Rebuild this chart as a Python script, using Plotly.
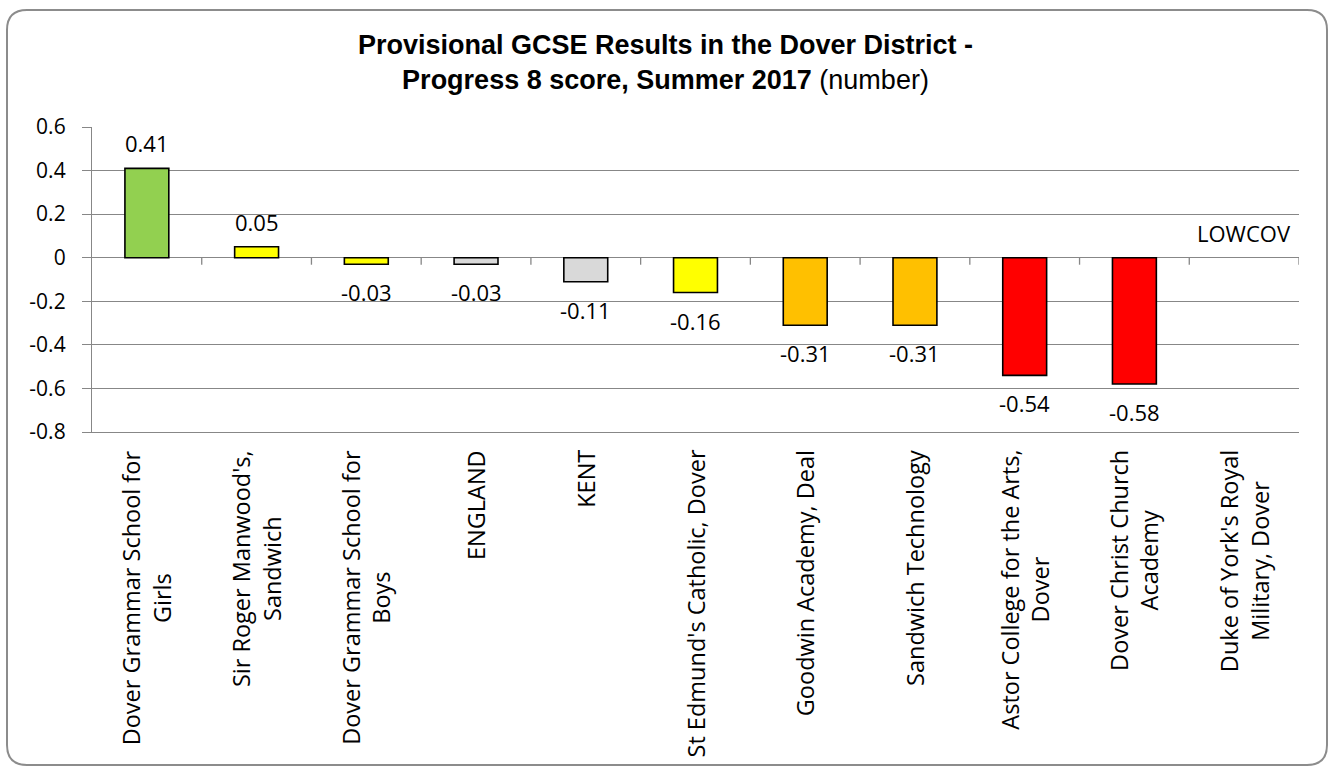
import plotly.graph_objects as go

# ---- data ----
schools = [
    "Dover Grammar School for Girls",
    "Sir Roger Manwood's, Sandwich",
    "Dover Grammar School for Boys",
    "ENGLAND",
    "KENT",
    "St Edmund's Catholic, Dover",
    "Goodwin Academy, Deal",
    "Sandwich Technology",
    "Astor College for the Arts, Dover",
    "Dover Christ Church Academy",
    "Duke of York's Royal Military, Dover",
]
school_labels = [
    "Dover Grammar School for<br>Girls",
    "Sir Roger Manwood's,<br>Sandwich",
    "Dover Grammar School for<br>Boys",
    "ENGLAND",
    "KENT",
    "St Edmund's Catholic, Dover",
    "Goodwin Academy, Deal",
    "Sandwich Technology",
    "Astor College for the Arts,<br>Dover",
    "Dover Christ Church<br>Academy",
    "Duke of York's Royal<br>Military, Dover",
]
progress8 = [0.41, 0.05, -0.03, -0.03, -0.11, -0.16, -0.31, -0.31, -0.54, -0.58, None]
value_labels = ["0.41", "0.05", "-0.03", "-0.03", "-0.11", "-0.16", "-0.31", "-0.31", "-0.54", "-0.58", "LOWCOV"]
bar_colors = ["#92D050", "#FFFF00", "#FFFF00", "#D9D9D9", "#D9D9D9", "#FFFF00",
              "#FFC000", "#FFC000", "#FF0000", "#FF0000", "#FFFFFF"]
y_tick_vals = [-0.8, -0.6, -0.4, -0.2, 0, 0.2, 0.4, 0.6]
y_tick_text = ["-0.8", "-0.6", "-0.4", "-0.2", "0", "0.2", "0.4", "0.6"]
y_range = [-0.8, 0.6]

# ---- layout geometry ----
W, H = 1331, 767
ML, MR, MT, MB = 92, 32, 127, 335
PW, PH = W - ML - MR, H - MT - MB
GRID = "#878787"
NUM_FONT = dict(family="Open Sans", size=22, color="black")


def px_x(px):
    return (px - ML) / PW


def px_y(py):
    return 1 - (py - MT) / PH


fig = go.Figure()
fig.add_trace(go.Bar(
    x=schools,
    y=progress8,
    width=0.4,
    marker=dict(color=bar_colors, line=dict(color="black", width=1.6)),
    hoverinfo="x+y",
    showlegend=False,
))

annotations = []
for name, v, lab in zip(schools, progress8, value_labels):
    yv = 0 if v is None else v
    annotations.append(dict(
        x=name, y=yv, xref="x", yref="y", text=lab, showarrow=False,
        yanchor="middle", xanchor="center",
        yshift=25 if yv >= 0 else -28, font=NUM_FONT,
    ))
for name, lab in zip(schools, school_labels):
    annotations.append(dict(
        x=name, y=0, xref="x", yref="paper", text=lab, showarrow=False,
        textangle=-90, yanchor="top", xanchor="center", align="center",
        yshift=-16, font=dict(family="Open Sans", size=23.5, color="black"),
    ))

shapes = []
# category boundary tick marks on the zero line
for i in range(len(schools)):
    shapes.append(dict(
        type="line", xref="x", yref="y", x0=i + 0.5, x1=i + 0.5,
        ysizemode="pixel", yanchor=0, y0=0, y1=-7,
        line=dict(color=GRID, width=1.3),
    ))

# rounded frame around the whole chart
fx0, fy0, fx1, fy1, r = 7, 10, 1327, 765, 20
pts = (
    f"M {px_x(fx0 + r)},{px_y(fy0)} L {px_x(fx1 - r)},{px_y(fy0)} "
    f"Q {px_x(fx1)},{px_y(fy0)} {px_x(fx1)},{px_y(fy0 + r)} "
    f"L {px_x(fx1)},{px_y(fy1 - r)} "
    f"Q {px_x(fx1)},{px_y(fy1)} {px_x(fx1 - r)},{px_y(fy1)} "
    f"L {px_x(fx0 + r)},{px_y(fy1)} "
    f"Q {px_x(fx0)},{px_y(fy1)} {px_x(fx0)},{px_y(fy1 - r)} "
    f"L {px_x(fx0)},{px_y(fy0 + r)} "
    f"Q {px_x(fx0)},{px_y(fy0)} {px_x(fx0 + r)},{px_y(fy0)} Z"
)
shapes.append(dict(type="path", xref="paper", yref="paper", path=pts,
                   line=dict(color="#8C8C8C", width=2), layer="below"))

fig.update_layout(
    width=W, height=H,
    margin=dict(l=ML, r=MR, t=MT, b=MB, pad=0),
    paper_bgcolor="white", plot_bgcolor="white",
    title=dict(
        text="<b>Provisional GCSE Results in the Dover District -<br>"
             "Progress 8 score, Summer 2017</b> (number)",
        x=0.5, xref="container", xanchor="center",
        y=1 - 54 / H, yref="container", yanchor="middle",
        font=dict(family="Liberation Sans, Arial", size=27, color="black"),
    ),
    bargap=0.6,
    xaxis=dict(
        type="category", range=[-0.5, len(schools) - 0.5],
        showticklabels=False, ticks="", showgrid=False, zeroline=False,
        showline=True, linecolor=GRID, linewidth=1.3,
    ),
    yaxis=dict(
        range=y_range, tickvals=y_tick_vals, ticktext=y_tick_text,
        showgrid=True, gridcolor=GRID, gridwidth=1.3,
        zeroline=True, zerolinecolor=GRID, zerolinewidth=1.3,
        showline=True, linecolor=GRID, linewidth=1.3,
        ticks="outside", ticklen=9, tickcolor=GRID, tickwidth=1.3,
        ticklabelstandoff=12,
        tickfont=dict(family="Open Sans", size=21, color="black"),
    ),
    annotations=annotations,
    shapes=shapes,
)

fig.write_html("out.html", config={"displayModeBar": False},
               post_script="document.body.style.margin='0';")
